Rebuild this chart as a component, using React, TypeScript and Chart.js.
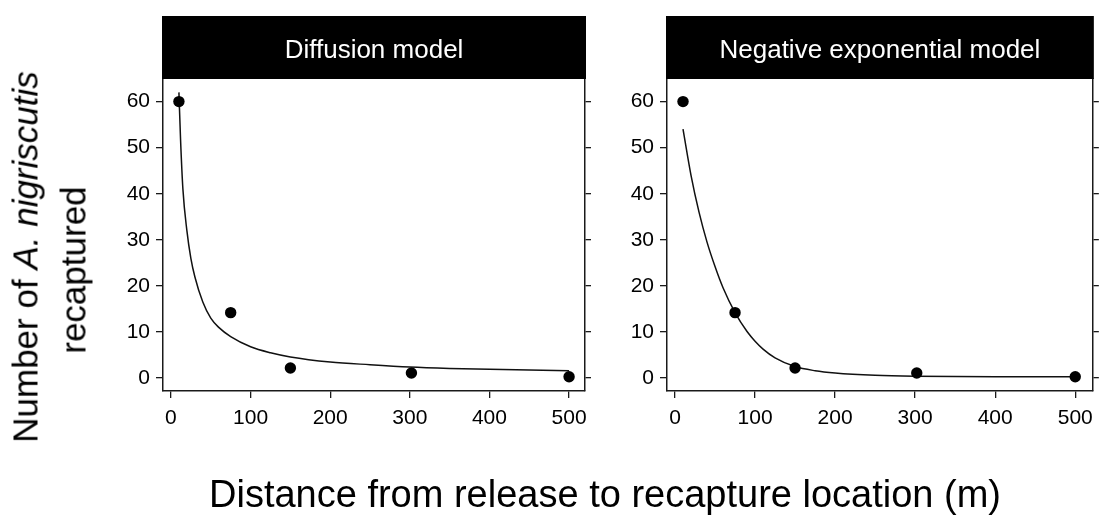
import React, { useEffect, useRef } from "react";
import { Chart, registerables } from "chart.js";

Chart.register(...registerables);

// ---- data ----
const distances = [10, 75, 150, 302, 500];
const recaptured = [60, 14.2, 2.2, 1.1, 0.3];

const diffusionX = [10, 12, 15, 20, 25, 30, 40, 50, 60, 75, 100, 125, 150, 200, 250, 300, 350, 400, 450, 500];
const diffusionY = [62, 52, 41, 32, 26, 22, 16.5, 13, 11, 9, 6.8, 5.5, 4.6, 3.5, 2.9, 2.4, 2.1, 1.9, 1.75, 1.6];

const expX = [10, 20, 30, 40, 50, 60, 75, 90, 100, 110, 125, 150, 175, 200, 250, 300, 400, 500];
const expY = [54, 44, 36, 29.5, 24.2, 19.6, 14.2, 10.1, 8.0, 6.3, 4.4, 2.5, 1.6, 1.1, 0.6, 0.4, 0.3, 0.3];

const xTicks = [0, 100, 200, 300, 400, 500];
const yTicks = [0, 10, 20, 30, 40, 50, 60];
const panelTitles = ["Diffusion model", "Negative exponential model"];
const xTitle = "Distance from release to recapture location (m)";
const yTitleMain = "Number of ";
const yTitleItalic = "A. nigriscutis";
const yTitleLine2 = "recaptured";

const FONT = '"Liberation Sans", Arial, Helvetica, sans-serif';
const AXIS = "#1a1a1a";

const headerPlugin = {
  id: "panelHeader",
  afterDraw(chart: any, _args: any, opts: any) {
    const { ctx, chartArea } = chart;
    ctx.save();
    ctx.fillStyle = "#000";
    const top = opts.top;
    ctx.fillRect(chartArea.left - 1, top, chartArea.right - chartArea.left + 2, chartArea.top - top);
    ctx.fillStyle = "#fff";
    ctx.font = `26px ${FONT}`;
    ctx.textAlign = "center";
    ctx.textBaseline = "alphabetic";
    ctx.fillText(opts.text, (chartArea.left + chartArea.right) / 2, top + 42);
    ctx.restore();
  },
};

function makeConfig(curveX: number[], curveY: number[], title: string, xmax: number, pad: any) {
  const grid = {
    drawOnChartArea: false,
    drawTicks: true,
    tickLength: 7,
    color: AXIS,
    lineWidth: 1.3,
  };
  const border = { display: true, color: AXIS, width: 1.5 };
  const tickFont = { family: FONT, size: 21 };
  return {
    type: "scatter",
    data: {
      datasets: [
        {
          data: curveX.map((x, i) => ({ x, y: curveY[i] })),
          showLine: true,
          pointRadius: 0,
          pointHoverRadius: 0,
          borderColor: "#111",
          borderWidth: 1.5,
          cubicInterpolationMode: "monotone",
          fill: false,
          order: 2,
        },
        {
          data: distances.map((x, i) => ({ x, y: recaptured[i] })),
          showLine: false,
          pointRadius: 5.7,
          pointHoverRadius: 5.7,
          backgroundColor: "#000",
          borderColor: "#000",
          borderWidth: 0,
          order: 1,
        },
      ],
    },
    options: {
      responsive: false,
      animation: false,
      events: [],
      layout: { padding: pad },
      plugins: {
        legend: { display: false },
        tooltip: { enabled: false },
        title: { display: false },
        panelHeader: { text: title, top: 16 },
      },
      scales: {
        x: {
          type: "linear",
          position: "bottom",
          min: -10,
          max: xmax,
          afterBuildTicks: (s: any) => {
            s.ticks = xTicks.map((v) => ({ value: v }));
          },
          afterFit: (s: any) => {
            s.height = 40;
          },
          grid,
          border,
          ticks: { font: tickFont, color: "#000", padding: 8, maxRotation: 0, autoSkip: false },
        },
        y: {
          type: "linear",
          position: "left",
          min: -2.8,
          max: 64.9,
          afterBuildTicks: (s: any) => {
            s.ticks = yTicks.map((v) => ({ value: v }));
          },
          afterFit: (s: any) => {
            s.width = 40;
          },
          grid,
          border,
          ticks: { font: tickFont, color: "#000", padding: 6, autoSkip: false },
        },
        y2: {
          type: "linear",
          position: "right",
          min: -2.8,
          max: 64.9,
          afterBuildTicks: (s: any) => {
            s.ticks = yTicks.map((v) => ({ value: v }));
          },
          afterFit: (s: any) => {
            s.width = 6;
          },
          grid: { ...grid, tickLength: 6 },
          border,
          ticks: { display: false },
        },
      },
    },
    plugins: [headerPlugin],
  };
}

function Panel(props: { left: number; width: number; curveX: number[]; curveY: number[]; title: string; xmax: number; pad: any }) {
  const ref = useRef<HTMLCanvasElement | null>(null);
  useEffect(() => {
    if (!ref.current) return;
    const chart = new Chart(ref.current, makeConfig(props.curveX, props.curveY, props.title, props.xmax, props.pad) as any);
    return () => chart.destroy();
  }, []);
  return (
    <canvas
      ref={ref}
      width={props.width}
      height={525}
      style={{ position: "absolute", left: props.left, top: 0, width: props.width, height: 525 }}
    />
  );
}

export default function App() {
  useEffect(() => {
    document.body.style.margin = "0";
  }, []);
  return (
    <div style={{ position: "relative", width: 1101, height: 525, background: "#fff", overflow: "hidden", fontFamily: FONT }}>
      <Panel
        left={0}
        width={620}
        curveX={diffusionX}
        curveY={diffusionY}
        title={panelTitles[0]}
        xmax={520}
        pad={{ left: 123, right: 620 - 585 - 6, top: 79, bottom: 525 - 391 - 40 }}
      />
      <Panel
        left={600}
        width={501}
        curveX={expX}
        curveY={expY}
        title={panelTitles[1]}
        xmax={522}
        pad={{ left: 67 - 40, right: 0, top: 79, bottom: 525 - 391 - 40 }}
      />
      <div
        style={{
          position: "absolute",
          left: 25,
          top: 257,
          transform: "translate(-50%, -50%) rotate(-90deg)",
          whiteSpace: "nowrap",
          fontSize: 35,
          lineHeight: "35px",
          color: "#000",
        }}
      >
        {yTitleMain}
        <i>{yTitleItalic}</i>
      </div>
      <div
        style={{
          position: "absolute",
          left: 72.5,
          top: 270,
          transform: "translate(-50%, -50%) rotate(-90deg)",
          whiteSpace: "nowrap",
          fontSize: 35,
          lineHeight: "35px",
          color: "#000",
        }}
      >
        {yTitleLine2}
      </div>
      <div
        style={{
          position: "absolute",
          left: 605,
          top: 494,
          transform: "translate(-50%, -50%)",
          whiteSpace: "nowrap",
          fontSize: 38,
          lineHeight: "38px",
          color: "#000",
        }}
      >
        {xTitle}
      </div>
    </div>
  );
}
